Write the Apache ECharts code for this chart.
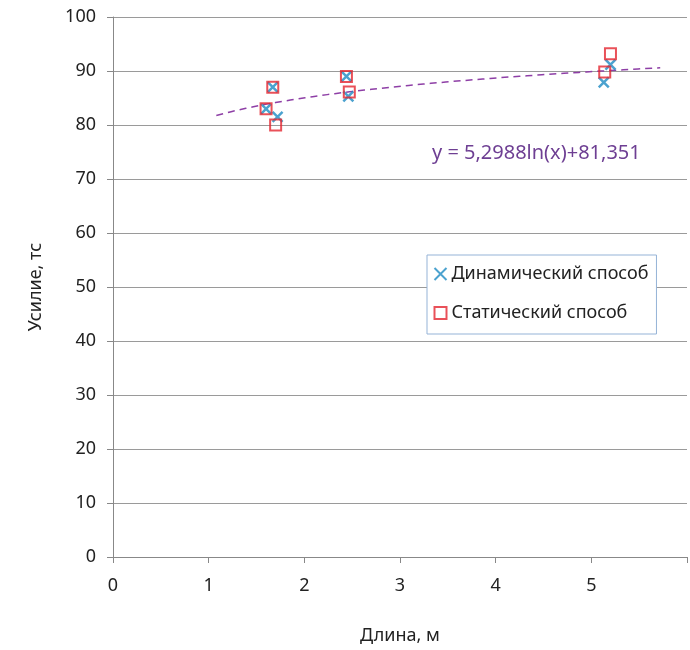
<!DOCTYPE html>
<html>
<head>
<meta charset="utf-8">
<script src="https://cdn.jsdelivr.net/npm/echarts@6/dist/echarts.min.js"></script>
<style>
html, body { margin: 0; padding: 0; background: #fff; }
#chart { width: 690px; height: 650px; }
</style>
</head>
<body>
<div id="chart"></div>
<script>
// Динамический способ: [длина, усилие]
var dynLen = [1.60, 1.67, 1.72, 2.44, 2.46, 5.13, 5.20];
var dynVal = [83.0, 87.0, 81.5, 89.0, 85.3, 87.9, 91.2];
// Статический способ
var statLen = [1.60, 1.67, 1.70, 2.44, 2.47, 5.14, 5.20];
var statVal = [83.0, 87.0, 80.0, 89.0, 86.1, 89.8, 93.2];
// логарифмическая линия тренда (коэффициенты с подписи)
var trendA = 5.2988;
var trendB = 81.351;
var trendFrom = 1.08;
var trendTo = 5.72;
var xTicks = [0, 1, 2, 3, 4, 5];
var yTicks = [0, 10, 20, 30, 40, 50, 60, 70, 80, 90, 100];

var dynData = dynLen.map((x, i) => [x, dynVal[i]]);
var statData = statLen.map((x, i) => [x, statVal[i]]);
var trendData = [];
for (var k = 0; k <= 60; k++) {
    var x = trendFrom + (trendTo - trendFrom) * k / 60;
    trendData.push([x, trendA * Math.log(x) + trendB]);
}

var chartDom = document.getElementById('chart');
var myChart = echarts.init(chartDom);
var font = '"Noto Sans", sans-serif';
var option = {
    animation: false,
    grid: { left: 113, top: 17, width: 586, height: 547 },
    textStyle: { fontFamily: font },
    legend: {
        orient: 'vertical',
        left: 427, top: 255,
        padding: [10, 8, 12, 5],
        itemGap: 21,
        itemWidth: 12, itemHeight: 12,
        borderColor: '#95B3D7', borderWidth: 1,
        backgroundColor: '#fff',
        textStyle: { fontFamily: font, fontSize: 18, color: '#222' },
        data: ['Динамический способ', 'Статический способ']
    },
    xAxis: {
        type: 'value',
        min: 0, max: 6, interval: 1,
        name: 'Длина, м',
        nameLocation: 'middle',
        nameGap: 70,
        nameTextStyle: { fontSize: 18, color: '#222' },
        axisLine: { lineStyle: { color: '#888' } },
        axisTick: { show: true, length: 6, lineStyle: { color: '#888' } },
        axisLabel: { fontSize: 18, color: '#222', margin: 20,
            formatter: v => xTicks.indexOf(v) >= 0 ? String(v) : '' },
        splitLine: { show: false }
    },
    yAxis: {
        type: 'value',
        min: 0, max: 100, interval: 10,
        name: 'Усилие, тс',
        nameLocation: 'middle',
        nameGap: 68,
        nameTextStyle: { fontSize: 18, color: '#222' },
        axisLine: { show: true, lineStyle: { color: '#888' } },
        axisTick: { show: true, length: 6, lineStyle: { color: '#888' } },
        axisLabel: { fontSize: 18, color: '#222', margin: 17,
            formatter: v => yTicks.indexOf(v) >= 0 ? String(v) : '' },
        splitLine: { show: true, lineStyle: { color: '#9a9a9a', width: 1 } }
    },
    series: [
        {
            name: 'trend',
            type: 'line',
            data: trendData,
            showSymbol: false,
            lineStyle: { color: '#8E3FA6', width: 1.5, type: [7, 5] },
            silent: true,
            z: 1
        },
        {
            name: 'Динамический способ',
            type: 'scatter',
            data: dynData,
            symbol: 'path://M0,0L10,10M10,0L0,10',
            symbolSize: 10,
            itemStyle: { color: 'none', borderColor: '#1E8BC3', borderWidth: 2.5 },
            z: 2
        },
        {
            name: 'Статический способ',
            type: 'scatter',
            data: statData,
            symbol: 'rect',
            symbolSize: 11,
            itemStyle: { color: 'rgba(0,0,0,0)', borderColor: '#E4262F', borderWidth: 2 },
            z: 3
        }
    ],
    graphic: [{
        type: 'text',
        left: 432, top: 143,
        style: { text: 'y = 5,2988ln(x)+81,351', font: '20px ' + font, fill: '#6E3F93' }
    }]
};
option && myChart.setOption(option);
</script>
</body>
</html>
